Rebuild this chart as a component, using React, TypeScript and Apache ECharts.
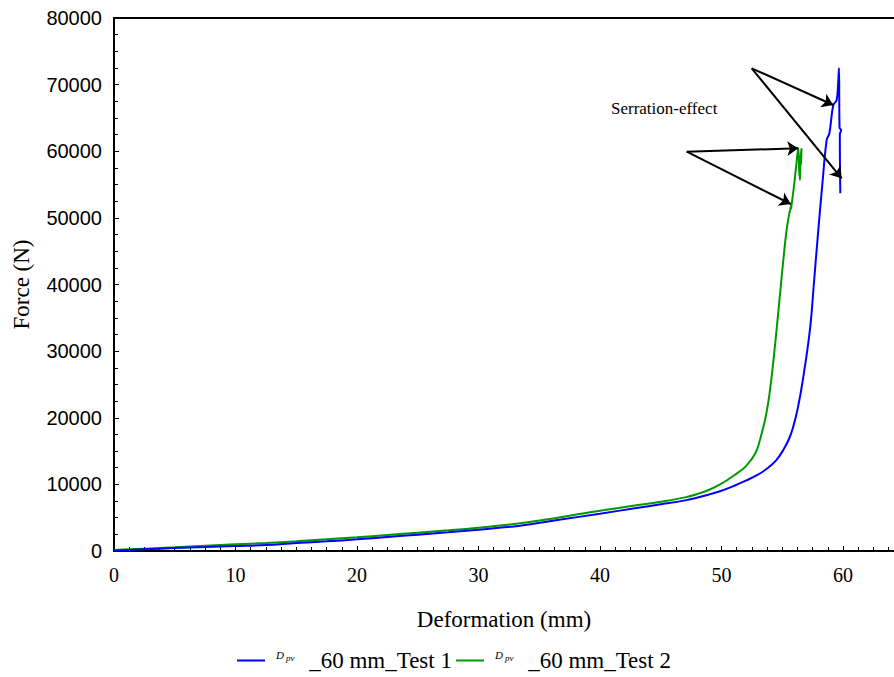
import React, { useEffect, useRef } from "react";
import * as echarts from "echarts";

// Test 1 (blue) — deformation (mm) and force (N)
const test1X = [0, 2.5, 5, 7.5, 10, 12.5, 15, 17.5, 20, 22.5, 25, 27.5, 30, 33.4, 36.5, 40, 43, 45, 47, 48.2, 49, 50, 51, 52, 53, 53.7, 54.5, 55.1, 55.6, 55.9, 56.3, 56.7, 57.28, 57.6, 57.97, 58.3, 58.66, 58.88, 59.2, 59.48, 59.6, 59.67, 59.72, 59.85, 59.74, 59.78];
const test1Y = [50, 250, 450, 600, 750, 900, 1200, 1450, 1750, 2100, 2450, 2800, 3200, 3800, 4650, 5600, 6450, 7000, 7600, 8100, 8500, 9050, 9750, 10550, 11450, 12300, 13600, 15200, 17000, 18600, 21600, 25700, 33200, 40000, 48200, 55000, 61700, 62700, 66900, 67700, 70200, 72450, 63500, 63200, 62500, 53700];

// Test 2 (green)
const test2X = [0, 2.5, 5, 7.5, 10, 12.5, 15, 17.5, 20, 22.5, 25, 27.5, 30, 33.4, 36.5, 40, 43, 45, 47, 48, 49, 50, 51, 52, 52.8, 53.2, 53.7, 54.1, 54.67, 55.0, 55.36, 55.6, 55.78, 55.72, 55.95, 56.15, 56.32, 56.4, 56.46, 56.5, 56.59, 56.55];
const test2Y = [150, 350, 550, 800, 1000, 1200, 1450, 1750, 2050, 2400, 2750, 3100, 3500, 4150, 5000, 6050, 6850, 7400, 8050, 8550, 9200, 10100, 11300, 12700, 14700, 16900, 20700, 25700, 35700, 42000, 48200, 50800, 52200, 51300, 54500, 57800, 60450, 57000, 55700, 58500, 60450, 58000];

const seriesNames = ["_60 mm_Test 1", "_60 mm_Test 2"];

// Annotation arrows (data coordinates: start -> end)
const arrowStarts = [[52.49, 72450], [52.49, 72450], [47.14, 59930], [47.14, 59930]];
const arrowEnds = [[59.2, 66940], [59.89, 55940], [56.32, 60440], [55.7, 52080]];
const annotationText = "Serration-effect";

const xTicks = { min: 0, max: 64.2, interval: 10 };
const yTicks = { min: 0, max: 80000, interval: 10000 };

export default function App() {
  const ref = useRef<HTMLDivElement>(null);
  useEffect(() => {
    if (!ref.current) return;
    const chart = echarts.init(ref.current, null, { renderer: "svg" });
    const d1 = test1X.map((x, i) => [x, test1Y[i]]);
    const d2 = test2X.map((x, i) => [x, test2Y[i]]);
    const serif = "Liberation Serif";
    chart.setOption({
      animation: false,
      backgroundColor: "#fff",
      grid: { left: 114, top: 18, right: 0, bottom: 126 },
      xAxis: [
        {
          type: "value",
          min: xTicks.min,
          max: xTicks.max,
          interval: xTicks.interval,
          name: "Deformation (mm)",
          nameLocation: "middle",
          nameGap: 57,
          nameTextStyle: { fontFamily: serif, fontSize: 23, color: "#000" },
          axisLine: { show: true, onZero: false, lineStyle: { color: "#000", width: 2 } },
          axisTick: { show: true, inside: true, length: 5, lineStyle: { color: "#000", width: 1 } },
          minorTick: { show: true, splitNumber: 8, length: 4, lineStyle: { color: "#000", width: 1 } },
          axisLabel: { fontFamily: serif, fontSize: 20, color: "#000", margin: 14, showMaxLabel: false },
          splitLine: { show: false },
        },
        {
          type: "value",
          position: "top",
          min: xTicks.min,
          max: xTicks.max,
          interval: xTicks.interval,
          axisLine: { show: true, onZero: false, lineStyle: { color: "#000", width: 2 } },
          axisTick: { show: false },
          axisLabel: { show: false },
          splitLine: { show: false },
        },
      ],
      yAxis: {
        type: "value",
        min: yTicks.min,
        max: yTicks.max,
        interval: yTicks.interval,
        name: "Force (N)",
        nameLocation: "middle",
        nameGap: 81,
        nameTextStyle: { fontFamily: serif, fontSize: 23, color: "#000" },
        axisLine: { show: true, onZero: false, lineStyle: { color: "#000", width: 2 } },
        axisTick: { show: true, inside: true, length: 5, lineStyle: { color: "#000", width: 1 } },
        minorTick: { show: true, splitNumber: 4, length: 4, lineStyle: { color: "#000", width: 1 } },
        axisLabel: {
          fontFamily: "Liberation Sans",
          fontSize: 20,
          color: "#000",
          margin: 12,
          formatter: (v: number) => String(v),
        },
        splitLine: { show: false },
      },
      legend: {
        left: 237,
        top: 649,
        padding: 0,
        icon: "rect",
        itemWidth: 28,
        itemHeight: 2,
        itemGap: 4,
        data: seriesNames,
        formatter: (name: string) => `{d|D}{s|pv} {t|${name}}`,
        textStyle: {
          color: "#000",
          fontFamily: serif,
          fontSize: 23,
          padding: [0, 0, 0, 6],
          rich: {
            t: { fontFamily: serif, fontSize: 23, color: "#000" },
            d: { fontFamily: serif, fontSize: 11, fontStyle: "italic", color: "#000", verticalAlign: "top", padding: [0, 1, 0, 0] },
            s: { fontFamily: serif, fontSize: 9, fontStyle: "italic", color: "#000", verticalAlign: "top", padding: [4, 9, 0, 1] },
          },
        },
      },
      series: [
        {
          name: seriesNames[0],
          type: "line",
          data: d1,
          showSymbol: false,
          symbol: "none",
          smooth: 0.4,
          lineStyle: { color: "#0000ff", width: 2 },
          itemStyle: { color: "#0000ff" },
          silent: true,
          z: 3,
          markLine: {
            silent: true,
            symbol: ["none", "arrow"],
            symbolSize: 11,
            label: { show: false },
            lineStyle: { color: "#000", width: 2, type: "solid" },
            emphasis: { disabled: true },
            data: arrowStarts.map((s, i) => [{ coord: s }, { coord: arrowEnds[i] }]),
          },
        },
        {
          name: seriesNames[1],
          type: "line",
          data: d2,
          showSymbol: false,
          symbol: "none",
          smooth: 0.4,
          lineStyle: { color: "#009a00", width: 2 },
          itemStyle: { color: "#009a00" },
          silent: true,
          z: 2,
        },
      ],
      graphic: [
        {
          type: "text",
          left: 611,
          top: 100,
          style: { text: annotationText, fontFamily: serif, fontSize: 17, fill: "#000" },
        },
      ],
    });
    return () => chart.dispose();
  }, []);
  return <div ref={ref} style={{ position: "fixed", left: 0, top: 0, width: 894, height: 677 }} />;
}
